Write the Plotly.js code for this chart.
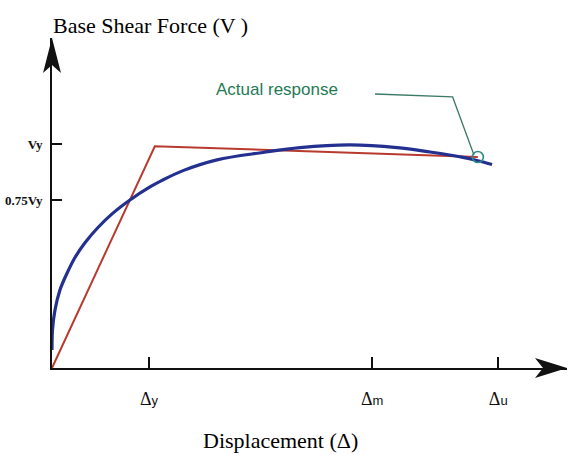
<!DOCTYPE html>
<html>
<head>
<meta charset="utf-8">
<script src="https://cdn.plot.ly/plotly-3.0.1.min.js"></script>
<style>html,body{margin:0;padding:0;background:#fff}#chart{width:569px;height:455px}</style>
</head>
<body>
<div id="chart"></div>
<script>
// Displacement in units of Δy, force in units of Vy
const bilinearDisp = [0, 1.06, 4.39];
const bilinearForce = [0, 0.99, 0.942];

const actualDisp = [0, 0.005, 0.031, 0.082, 0.155, 0.237, 0.340, 0.474, 0.619, 0.804, 1.010, 1.134, 1.351, 1.701, 2.175, 2.557, 3.072, 3.557, 3.897, 4.237, 4.381, 4.536];
const actualForce = [0.080, 0.170, 0.259, 0.348, 0.423, 0.493, 0.559, 0.627, 0.688, 0.750, 0.808, 0.8375, 0.881, 0.929, 0.962, 0.984, 0.996, 0.984, 0.964, 0.940, 0.926, 0.908];

const xTickVals = [1.0, 3.3, 4.6];
const xTickText = ['Δ<span style="font-family:Liberation Sans;font-size:13px">y</span>',
                   'Δ<span style="font-family:Liberation Sans;font-size:13px">m</span>',
                   'Δ<span style="font-family:Liberation Sans;font-size:13px">u</span>'];
const yTickVals = [0.75, 1.0];
const yTickText = ['<b>0.75Vy</b>', '<b>Vy</b>'];

const calloutLineX = [3.33, 4.13, 4.35];
const calloutLineY = [1.223, 1.21, 0.951];

const traces = [
  {x: bilinearDisp, y: bilinearForce, mode: 'lines', line: {color: '#b83a2e', width: 2}, hoverinfo: 'skip'},
  {x: actualDisp, y: actualForce, mode: 'lines', line: {color: '#23308f', width: 3.2, shape: 'spline', smoothing: 1}, hoverinfo: 'skip'},
  {x: calloutLineX, y: calloutLineY, mode: 'lines', line: {color: '#3a7a66', width: 1.3}, hoverinfo: 'skip'},
  {x: [bilinearDisp[2]], y: [bilinearForce[2]], mode: 'markers',
   marker: {symbol: 'circle-open', size: 11, color: '#2f8a88', line: {width: 1.6, color: '#2f8a88'}}, hoverinfo: 'skip'}
];

const layout = {
  width: 569, height: 455,
  margin: {l: 52, r: 2, t: 38, b: 87},
  paper_bgcolor: '#fff', plot_bgcolor: '#fff',
  showlegend: false,
  title: {text: 'Base Shear Force (V )', x: 53/569, xanchor: 'left', y: 1 - 25/455, yanchor: 'middle',
          font: {family: 'Liberation Serif', size: 22, color: '#000'}},
  xaxis: {range: [0, 5.309], showgrid: false, zeroline: false, showline: true, linecolor: '#111', linewidth: 2,
          ticks: 'inside', ticklen: 11, tickwidth: 1.5, tickcolor: '#111',
          tickvals: xTickVals, ticktext: xTickText, ticklabelstandoff: 13,
          tickfont: {family: 'Liberation Serif', size: 18, color: '#111'}, fixedrange: true},
  yaxis: {range: [0, 1.473], showgrid: false, zeroline: false, showline: true, linecolor: '#111', linewidth: 2,
          ticks: 'inside', ticklen: 10, tickwidth: 1.5, tickcolor: '#111',
          tickvals: yTickVals, ticktext: yTickText, ticklabelstandoff: 5,
          tickfont: {family: 'Liberation Serif', size: 13, color: '#111'}, fixedrange: true},
  shapes: [
    {type: 'path', xref: 'paper', yref: 'paper', xsizemode: 'pixel', ysizemode: 'pixel', xanchor: 0, yanchor: 1,
     path: 'M0,0 L-9,-35 L0,-27 L9,-35 Z', fillcolor: '#111', line: {width: 0}},
    {type: 'path', xref: 'paper', yref: 'paper', xsizemode: 'pixel', ysizemode: 'pixel', xanchor: 1, yanchor: 0,
     path: 'M0,0 L-32,10 L-24,0 L-32,-10 Z', fillcolor: '#111', line: {width: 0}}
  ],
  annotations: [
    {text: 'Actual response', x: 2.32, y: 1.241, xref: 'x', yref: 'y', showarrow: false,
     font: {family: 'Liberation Sans', size: 17, color: '#1f7a55'}},
    {text: 'Displacement (Δ)', x: 0, y: 0, xref: 'paper', yref: 'paper', showarrow: false, yanchor: 'middle',
     font: {family: 'Liberation Serif', size: 22, color: '#000'}}
  ]
};
// place the x-axis title at its pixel position, expressed in paper coords
layout.annotations[1].x = (280 - 52) / (569 - 54);
layout.annotations[1].y = -(440 - 368) / (455 - 38 - 87);

Plotly.newPlot('chart', traces, layout, {displayModeBar: false, staticPlot: true});
</script>
</body>
</html>
